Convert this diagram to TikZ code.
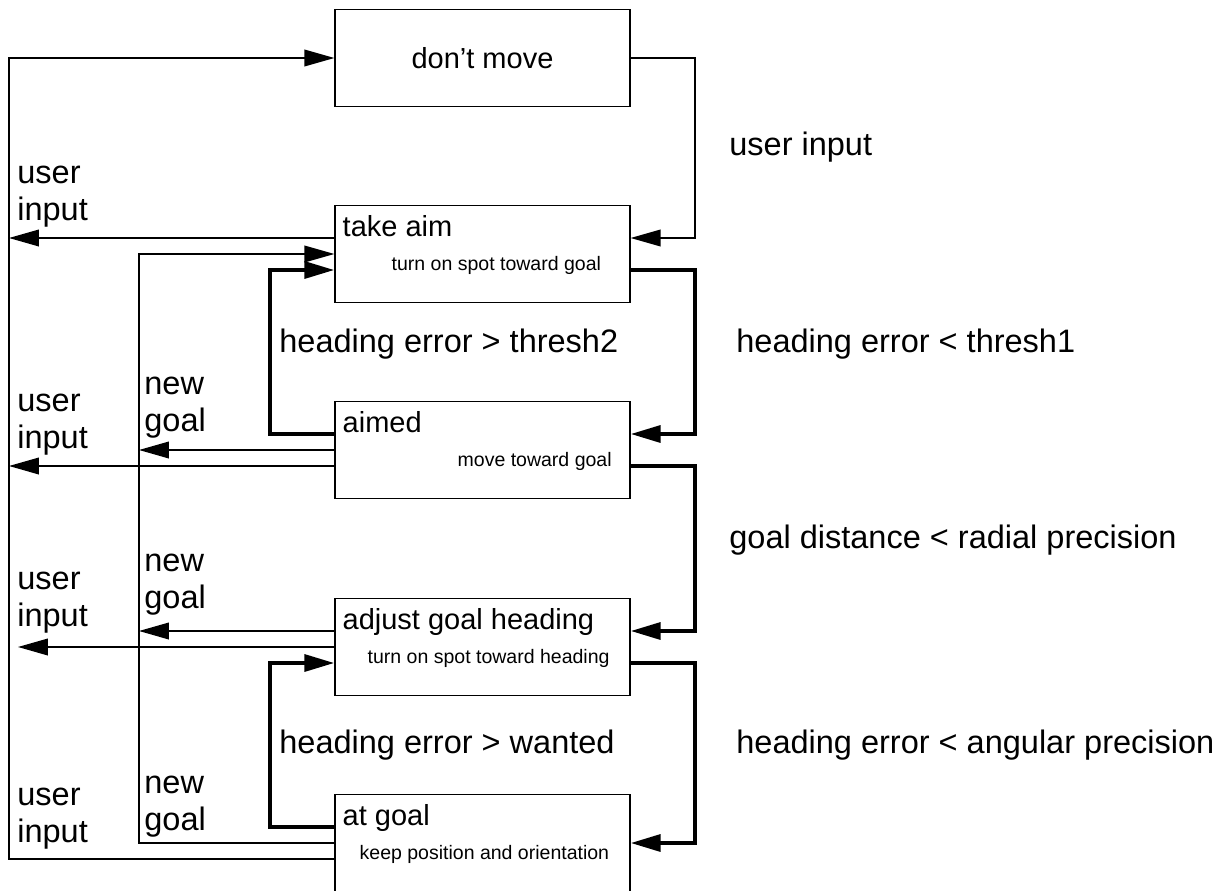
\documentclass[tikz,border=0pt]{standalone}
\usepackage{fontspec}
\setmainfont{Liberation Sans}
\usetikzlibrary{arrows.meta}

\begin{document}
\begin{tikzpicture}[
  state/.style={draw, line width=0.75pt, minimum width=5.9cm, minimum height=1.94cm, inner sep=0pt, font=\fontsize{16.5}{19}\selectfont},
  title/.style={anchor=base west, inner sep=0pt, font=\fontsize{16.5}{19}\selectfont},
  note/.style={anchor=base west, inner sep=0pt, font=\fontsize{11.1}{13}\selectfont},
  cond/.style={anchor=base west, inner sep=0pt, align=left, font=\fontsize{18.5}{20.8}\selectfont},
  flow/.style={line width=0.75pt, -{Triangle[length=17pt, width=9.5pt]}},
  strong/.style={flow, line width=2.3pt}]

\clip (0,0) rectangle (24.58,-17.8);

% states
\node[state] (dontmove) at (9.65,-1.16) {don't move};
\node[state] (takeaim) at (9.65,-5.08) {};
\node[state] (aimed) at (9.65,-9.00) {};
\node[state] (adjust) at (9.65,-12.94) {};
\node[state] (atgoal) at (9.65,-16.86) {};

\node[title] (takeaimT) at ([xshift=0.16cm,yshift=-0.64cm]takeaim.north west) {take aim};
\node[title] (aimedT) at ([xshift=0.16cm,yshift=-0.64cm]aimed.north west) {aimed};
\node[title] (adjustT) at ([xshift=0.16cm,yshift=-0.64cm]adjust.north west) {adjust goal heading};
\node[title] (atgoalT) at ([xshift=0.16cm,yshift=-0.64cm]atgoal.north west) {at goal};

\node[note] (takeaimN) at ([xshift=1.14cm,yshift=-1.31cm]takeaim.north west) {turn on spot toward goal};
\node[note] (aimedN) at ([xshift=2.46cm,yshift=-1.31cm]aimed.north west) {move toward goal};
\node[note] (adjustN) at ([xshift=0.66cm,yshift=-1.31cm]adjust.north west) {turn on spot toward heading};
\node[note] (atgoalN) at ([xshift=0.50cm,yshift=-1.31cm]atgoal.north west) {keep position and orientation};

% upper and lower ports on both sides of each state
\foreach \s in {dontmove,takeaim,aimed,adjust,atgoal} {
  \coordinate (\s-wu) at ([yshift=0.32cm]\s.west);
  \coordinate (\s-wd) at ([yshift=-0.32cm]\s.west);
  \coordinate (\s-eu) at ([yshift=0.32cm]\s.east);
  \coordinate (\s-ed) at ([yshift=-0.32cm]\s.east);
}

% bus lines
\coordinate (ui) at (0.18,-1.16);
\coordinate (uigap) at (0.36,-12.94);
\coordinate (ng) at (2.78,-5.08);
\coordinate (lbus) at (5.40,0);
\coordinate (rbus) at (13.90,0);

% user input
\draw[flow] (atgoal-wd) -| (ui) -- (dontmove.west);
\draw[flow] (takeaim-wu) -- (takeaim-wu -| ui);
\draw[flow] (aimed-wd) -- (aimed-wd -| ui);
\draw[flow] (adjust.west) -- (uigap);
\draw[flow] (dontmove.east) -- (dontmove.east -| rbus) |- (takeaim-eu);

% new goal
\draw[flow] (atgoal.west) -| (ng) -- (takeaim.west);
\draw[flow] (aimed.west) -- (aimed.west -| ng);
\draw[flow] (adjust-wu) -- (adjust-wu -| ng);

% heading and distance transitions
\draw[strong] (takeaim-ed) -- (takeaim-ed -| rbus) |- (aimed-eu);
\draw[strong] (aimed-ed) -- (aimed-ed -| rbus) |- (adjust-eu);
\draw[strong] (adjust-ed) -- (adjust-ed -| rbus) |- (atgoal.east);
\draw[strong] (aimed-wu) -- (aimed-wu -| lbus) |- (takeaim-wd);
\draw[strong] (atgoal-wu) -- (atgoal-wu -| lbus) |- (adjust-wd);

% conditions
\node[cond] (uiR) at (14.58,-3.10) {user input};
\node[cond] (thr1) at (14.72,-7.04) {heading error < thresh1};
\node[cond] (radial) at (14.58,-10.96) {goal distance < radial precision};
\node[cond] (angular) at (14.72,-15.06) {heading error < angular precision};
\node[cond] (thr2) at (5.58,-7.04) {heading error > thresh2};
\node[cond] (wanted) at (5.58,-15.06) {heading error > wanted};

% two-line labels sit on their last baseline
\node[cond] (ui1) at (0.34,-4.40) {user\\input};
\node[cond] (ui2) at (0.34,-8.96) {user\\input};
\node[cond] (ui3) at (0.34,-12.52) {user\\input};
\node[cond] (ui4) at (0.34,-16.84) {user\\input};
\node[cond] (ng1) at (2.88,-8.62) {new\\goal};
\node[cond] (ng2) at (2.88,-12.16) {new\\goal};
\node[cond] (ng3) at (2.88,-16.60) {new\\goal};

\end{tikzpicture}
\end{document}
